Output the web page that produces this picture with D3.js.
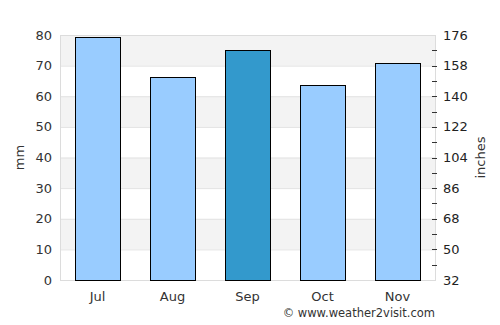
<!DOCTYPE html>
<html>
<head>
<meta charset="utf-8">
<script src="https://cdn.jsdelivr.net/npm/d3@7"></script>
<style>
  body { margin: 0; background: #fff; }
  text { font-family: "DejaVu Sans", sans-serif; fill: #333; }
</style>
</head>
<body>
<svg id="chart" width="500" height="325"></svg>
<script>
'use strict';

// data
const months = ['Jul', 'Aug', 'Sep', 'Oct', 'Nov'];
const rainfall = [79.2, 66.2, 75.0, 63.6, 70.8];
const highlight = 'Sep';
const leftTicks = [0, 10, 20, 30, 40, 50, 60, 70, 80];
const rightTicks = [32, 50, 68, 86, 104, 122, 140, 158, 176];

const margin = { top: 35, right: 65, bottom: 45, left: 60 };
const width = 500 - margin.left - margin.right,
      height = 325 - margin.top - margin.bottom;

// scales
const x = d3.scaleBand().domain(months).range([0, width]).paddingInner(0.4).paddingOuter(0.2);
const y = d3.scaleLinear().domain([0, 80]).range([height, 0]);
const y2 = d3.scaleLinear().domain([32, 176]).range([height, 0]);

const svg = d3.select('#chart')
  .append('g')
    .attr('transform', `translate(${margin.left},${margin.top})`);

// alternating bands
const bands = d3.pairs(leftTicks);
svg.selectAll('.band')
    .data(bands)
  .enter().append('rect')
    .attr('x', 0)
    .attr('width', width)
    .attr('y', (d) => y(d[1]))
    .attr('height', (d) => y(d[0]) - y(d[1]))
    .style('fill', (d, i) => i % 2 ? '#f3f3f3' : '#fff');

// gridlines
svg.selectAll('.grid')
    .data(leftTicks)
  .enter().append('line')
    .attr('x1', 0).attr('x2', width)
    .attr('y1', (d) => y(d) + 0.5).attr('y2', (d) => y(d) + 0.5)
    .style('stroke', '#e2e2e2');

// frame
svg.append('rect')
    .attr('x', 0.5).attr('y', 0.5)
    .attr('width', width).attr('height', height)
    .style('fill', 'none').style('stroke', '#dcdcdc');

// bars
svg.selectAll('.bar')
    .data(months)
  .enter().append('rect')
    .attr('x', (d) => Math.round(x(d)) + 0.5)
    .attr('width', Math.round(x.bandwidth()))
    .attr('y', (d, i) => Math.round(y(rainfall[i])) + 0.5)
    .attr('height', (d, i) => Math.round(height - y(rainfall[i])))
    .style('fill', (d) => d === highlight ? '#3399cc' : '#99ccff')
    .style('stroke', '#000')
    .style('stroke-width', 1);

// left axis labels
svg.selectAll('.ly')
    .data(leftTicks)
  .enter().append('text')
    .attr('x', -8)
    .attr('y', (d) => y(d))
    .attr('dy', '0.35em')
    .style('text-anchor', 'end')
    .style('font-size', '13px')
    .text((d) => d);

// right axis ticks (every 9, labels every 18)
svg.selectAll('.rtick')
    .data(d3.range(41, 176, 9))
  .enter().append('line')
    .attr('x1', width - 3).attr('x2', width + 2)
    .attr('y1', (d) => Math.round(y2(d)) + 0.5).attr('y2', (d) => Math.round(y2(d)) + 0.5)
    .style('stroke', '#333');

svg.selectAll('.ry')
    .data(rightTicks)
  .enter().append('text')
    .attr('x', width + 8)
    .attr('y', (d) => y2(d))
    .attr('dy', '0.35em')
    .style('font-size', '13px')
    .style('fill', '#222')
    .text((d) => d);

// x labels
svg.selectAll('.xl')
    .data(months)
  .enter().append('text')
    .attr('x', (d) => x(d) + x.bandwidth() / 2)
    .attr('y', height + 21)
    .style('text-anchor', 'middle')
    .style('font-size', '13px')
    .text((d) => d);

// axis titles
svg.append('text')
    .attr('transform', `translate(${-36},${height / 2}) rotate(-90)`)
    .style('text-anchor', 'middle')
    .style('font-size', '13px')
    .text('mm');

svg.append('text')
    .attr('transform', `translate(${width + 50},${height / 2}) rotate(-90)`)
    .style('text-anchor', 'middle')
    .style('font-size', '13px')
    .text('inches');

// credit
svg.append('text')
    .attr('x', width)
    .attr('y', height + 37)
    .style('text-anchor', 'end')
    .style('font-size', '11.5px')
    .text('© www.weather2visit.com');
</script>
</body>
</html>
